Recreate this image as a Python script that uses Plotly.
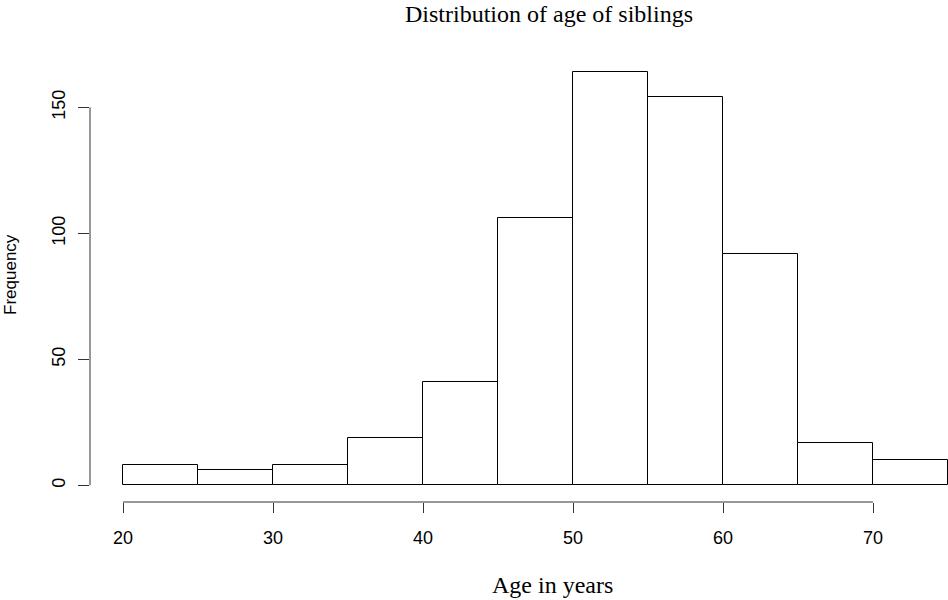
import plotly.graph_objects as go

# Data
bin_starts = [20, 25, 30, 35, 40, 45, 50, 55, 60, 65, 70]
bin_width = 5
counts = [8, 6, 8, 19, 41, 106, 164, 154, 92, 17, 10]
x_ticks = [20, 30, 40, 50, 60, 70]
y_ticks = [0, 50, 100, 150]

title_text = "Distribution of age of siblings"
x_label = "Age in years"
y_label = "Frequency"

centers = [s + bin_width / 2 for s in bin_starts]

fig = go.Figure()
fig.add_trace(go.Bar(
    x=centers, y=counts, width=bin_width,
    marker=dict(color="white", line=dict(color="black", width=1)),
    hoverinfo="skip", showlegend=False,
))

x_lo = min(bin_starts) - 0.04 * (max(bin_starts) + bin_width - min(bin_starts))
x_hi = max(bin_starts) + bin_width
y_range = [-6.6, 171.6]

tick_font = dict(family="Liberation Sans, Arial, sans-serif", size=18, color="black")
serif = "Liberation Serif, Times New Roman, serif"

fig.update_layout(
    width=948, height=600,
    margin=dict(l=90, r=0, t=53, b=98),
    paper_bgcolor="white", plot_bgcolor="white",
    bargap=0,
    xaxis=dict(range=[x_lo, x_hi], tickvals=x_ticks, ticks="outside", ticklen=10,
               tickcolor="#333", tickwidth=1, showline=False, showgrid=False,
               zeroline=False, tickfont=tick_font, ticklabelstandoff=9),
    yaxis=dict(range=y_range, tickvals=y_ticks, ticks="outside", ticklen=11,
               tickcolor="#333", tickwidth=1, showline=False, showgrid=False,
               zeroline=False, tickfont=tick_font, tickangle=-90, ticklabelstandoff=6),
    shapes=[
        dict(type="line", xref="x", yref="paper", x0=x_ticks[0], x1=x_ticks[-1],
             y0=0, y1=0, line=dict(color="#333", width=1)),
        dict(type="line", xref="paper", yref="y", x0=0, x1=0,
             y0=y_ticks[0], y1=y_ticks[-1], line=dict(color="#333", width=1)),
    ],
    annotations=[
        dict(text=title_text, xref="paper", yref="paper", x=0.535, y=1.117,
             xanchor="center", yanchor="top", showarrow=False, borderpad=0,
             font=dict(family=serif, size=24, color="black")),
        dict(text=x_label, xref="paper", yref="paper", x=0.5385, y=-0.1849,
             xanchor="center", yanchor="middle", showarrow=False,
             font=dict(family=serif, size=24, color="black")),
        dict(text=y_label, xref="paper", yref="paper", x=-0.0921, y=0.5078,
             xanchor="center", yanchor="middle", showarrow=False, textangle=-90,
             font=dict(family="Liberation Sans, Arial, sans-serif", size=17, color="black")),
    ],
)

fig.write_html("out.html")
